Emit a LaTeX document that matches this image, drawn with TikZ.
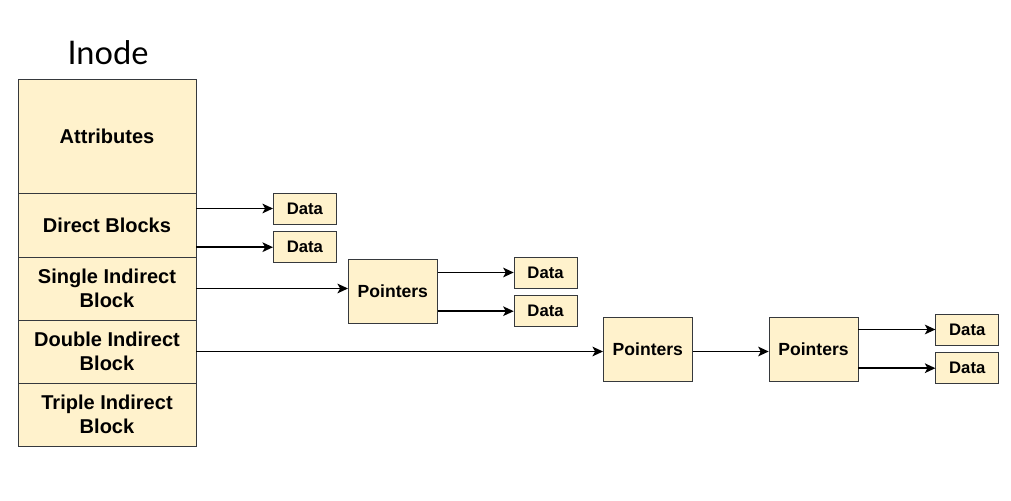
\documentclass[tikz,border=0pt]{standalone}
\usepackage{fontspec}
\setmainfont{Liberation Sans}
\newfontfamily\titlefont{Lato}
\usepackage{tikz}
\usepackage{xcolor}
\usetikzlibrary{arrows.meta, positioning}
\definecolor{cellfill}{HTML}{FFF2CC}
\definecolor{celldraw}{HTML}{36393D}
\tikzstyle{cell} = [rectangle, minimum width=3.56cm, minimum height=1.26cm, align=center, draw=celldraw, fill=cellfill, outer sep=0pt, font=\fontsize{11.4}{13.7}\selectfont\bfseries]
\tikzstyle{pointer} = [rectangle, minimum width=1.78cm, minimum height=1.28cm, text centered, draw=celldraw, fill=cellfill, font=\fontsize{10}{12}\selectfont\bfseries]
\tikzstyle{data} = [rectangle, minimum width=1.26cm, minimum height=0.62cm, text centered, draw=celldraw, fill=cellfill, font=\fontsize{9.5}{11}\selectfont\bfseries]
\tikzstyle{arrow} = [thick,->,>={Stealth[length=6pt,width=5.5pt,inset=1.5pt]}]

\begin{document}
\begin{tikzpicture}
\useasboundingbox (0,0) rectangle (20.22,-10.02);

% Inode column
\node (attr) [cell, minimum height=2.28cm] at (2.14,-2.72) {Attributes};
\node (direct) [cell, below=0cm of attr, minimum height=1.28cm] {Direct Blocks};
\node (single) [cell, below=0cm of direct] {Single Indirect\\Block};
\node (double) [cell, below=0cm of single] {Double Indirect\\Block};
\node (triple) [cell, below=0cm of double] {Triple Indirect\\Block};
\node (title) [above=0.28cm of attr, xshift=0.02cm, inner sep=0pt, font=\titlefont\fontsize{18.5}{22}\selectfont] {Inode};

% Direct data blocks
\node (data1) [data, right=1.54cm of direct, yshift=0.33cm] {Data};
\node (data2) [data, below=0.14cm of data1] {Data};

% Single indirect
\node (ptr1) [pointer, right=3.04cm of single, yshift=-0.05cm] {Pointers};
\node (data3) [data, right=1.52cm of ptr1, yshift=0.37cm] {Data};
\node (data4) [data, below=0.14cm of data3] {Data};

% Double indirect
\node (ptr2) [pointer, right=8.14cm of double, yshift=0.05cm] {Pointers};
\node (ptr3) [pointer, right=1.52cm of ptr2] {Pointers};
\node (data5) [data, right=1.54cm of ptr3, yshift=0.39cm] {Data};
\node (data6) [data, below=0.14cm of data5] {Data};

% Arrows
\draw [arrow] (direct.east |- data1.west) -- (data1.west);
\draw [arrow] (direct.east |- data2.west) -- (data2.west);
\draw [arrow] (single.east) -- (single.east -| ptr1.west);
\draw [arrow] (ptr1.east |- data3.west) -- (data3.west);
\draw [arrow] (ptr1.east |- data4.west) -- (data4.west);
\draw [arrow] (double.east) -- (double.east -| ptr2.west);
\draw [arrow] (ptr2.east |- double.east) -- (double.east -| ptr3.west);
\draw [arrow] (ptr3.east |- data5.west) -- (data5.west);
\draw [arrow] (ptr3.east |- data6.west) -- (data6.west);

\end{tikzpicture}
\end{document}
